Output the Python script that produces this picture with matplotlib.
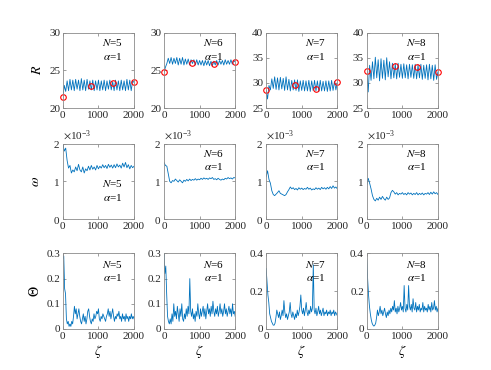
import matplotlib.pyplot as plt
import matplotlib.ticker as mticker
import numpy as np

plt.rcParams['font.family'] = ['Liberation Serif', 'DejaVu Serif']
plt.rcParams['mathtext.fontset'] = 'stix'
plt.rcParams['font.size'] = 8

N_list = [5, 6, 7, 8]
x40 = np.arange(0, 2001, 40)
x25 = np.arange(0, 2001, 25)

# R(zeta)
R5 = [21.4, 23.0, 22.2, 23.6, 22.3, 23.8, 22.4, 23.7, 22.3, 23.8,
      22.5, 23.7, 22.3, 23.9, 22.4, 23.7, 22.3, 23.8, 22.5, 23.6,
      22.4, 23.7, 22.3, 23.6, 22.4, 23.7, 22.3, 23.6, 22.4, 23.7,
      22.3, 23.6, 22.5, 23.7, 22.4, 23.5, 22.3, 23.7, 22.4, 23.6,
      22.3, 23.7, 22.4, 23.6, 22.3, 23.8, 22.4, 23.7, 22.3, 23.6,
      23.4]
R6 = [24.8, 25.4, 25.9, 26.6, 25.9, 26.7, 25.8, 26.6, 25.9, 26.7,
      25.7, 26.6, 25.8, 26.7, 25.7, 26.5, 25.8, 26.5, 25.7, 26.4,
      25.9, 26.4, 25.7, 26.4, 25.7, 26.3, 25.7, 26.3, 25.6, 26.3,
      25.7, 26.3, 25.6, 26.2, 25.6, 26.2, 25.7, 26.3, 25.7, 26.3,
      25.8, 26.3, 25.7, 26.4, 25.8, 26.3, 25.8, 26.4, 25.8, 26.3,
      26.1]
R7 = [28.5, 26.8, 29.5, 28.6, 30.8, 28.9, 31.2, 28.7, 31.0, 28.6,
      31.1, 28.8, 30.9, 28.5, 31.2, 28.6, 30.7, 28.4, 30.5, 28.6,
      30.6, 28.5, 30.6, 28.3, 30.4, 28.5, 30.5, 28.4, 30.4, 28.4,
      30.5, 28.3, 30.4, 28.5, 30.5, 28.4, 30.4, 28.3, 30.5, 28.4,
      30.3, 28.4, 30.4, 28.3, 30.4, 28.4, 30.5, 28.5, 30.3, 28.6,
      30.1]
R8 = [32.3, 28.2, 33.5, 30.5, 34.2, 30.8, 35.1, 31.0, 34.6, 30.4,
      34.8, 30.9, 34.5, 30.6, 35.0, 31.2, 34.2, 30.8, 33.9, 31.0,
      33.8, 30.8, 33.9, 31.1, 33.7, 30.9, 33.8, 31.0, 33.6, 30.8,
      33.7, 31.1, 33.6, 30.9, 33.7, 30.8, 33.6, 31.0, 33.7, 30.7,
      33.5, 30.9, 33.6, 30.6, 33.7, 30.8, 33.5, 30.5, 33.6, 30.7,
      32.2]
R_all = [R5, R6, R7, R8]

# red circle markers
mk_x = [0, 800, 1400, 2000]
mk_R = [[21.4, 22.9, 23.3, 23.5],
        [24.8, 26.0, 25.8, 26.1],
        [28.5, 29.6, 28.7, 30.1],
        [32.3, 33.4, 33.2, 32.2]]

# omega(zeta), in units of 1e-3
w5 = [1.98, 1.80, 1.88, 1.55, 1.35, 1.42, 1.22, 1.30, 1.25, 1.38,
      1.28, 1.45, 1.30, 1.25, 1.38, 1.22, 1.33, 1.28, 1.40, 1.30,
      1.42, 1.32, 1.38, 1.30, 1.42, 1.33, 1.40, 1.35, 1.44, 1.36,
      1.42, 1.34, 1.45, 1.37, 1.43, 1.35, 1.44, 1.36, 1.46, 1.38,
      1.43, 1.35, 1.48, 1.38, 1.50, 1.36, 1.44, 1.33, 1.42, 1.36,
      1.40]
w6 = [1.50, 1.42, 1.40, 1.20, 1.00, 0.96, 1.02, 1.00, 1.06, 1.02,
      0.98, 1.04, 1.00, 0.96, 1.03, 1.00, 1.05, 1.01, 1.06, 1.02,
      1.05, 1.03, 1.07, 1.03, 1.06, 1.04, 1.08, 1.05, 1.09, 1.06,
      1.08, 1.05, 1.09, 1.07, 1.10, 1.05, 1.07, 1.04, 1.08, 1.05,
      1.03, 1.06, 1.04, 1.08, 1.06, 1.10, 1.07, 1.09, 1.06, 1.10,
      1.09]
w7 = [1.12, 1.28, 1.05, 0.95, 0.75, 0.65, 0.62, 0.66, 0.70, 0.75,
      0.68, 0.66, 0.64, 0.62, 0.65, 0.72, 0.78, 0.85, 0.80, 0.83,
      0.78, 0.81, 0.77, 0.83, 0.79, 0.82, 0.78, 0.81, 0.79, 0.84,
      0.79, 0.82, 0.77, 0.80, 0.78, 0.83, 0.79, 0.82, 0.78, 0.84,
      0.80, 0.83, 0.79, 0.84, 0.80, 0.86, 0.81, 0.88, 0.82, 0.85,
      0.80]
w8 = [0.90, 1.08, 0.95, 0.80, 0.62, 0.52, 0.48, 0.55, 0.50, 0.58,
      0.52, 0.60, 0.54, 0.50, 0.58, 0.52, 0.56, 0.70, 0.76, 0.72,
      0.66, 0.70, 0.64, 0.68, 0.66, 0.70, 0.65, 0.68, 0.64, 0.70,
      0.66, 0.69, 0.64, 0.68, 0.65, 0.70, 0.64, 0.68, 0.65, 0.69,
      0.64, 0.68, 0.66, 0.70, 0.65, 0.71, 0.66, 0.72, 0.67, 0.70,
      0.65]
w_all = [w5, w6, w7, w8]

# Theta(zeta)
th5 = [0.28, 0.29, 0.16, 0.14, 0.04, 0.02, 0.03, 0.01, 0.02, 0.01,
       0.03, 0.02, 0.05, 0.09, 0.06, 0.08, 0.04, 0.06, 0.08, 0.05,
       0.03, 0.02, 0.04, 0.06, 0.03, 0.05, 0.02, 0.04, 0.07, 0.08,
       0.05, 0.03, 0.02, 0.04, 0.03, 0.06, 0.04, 0.05, 0.07, 0.06,
       0.08, 0.04, 0.03, 0.05, 0.04, 0.06, 0.05, 0.04, 0.03, 0.05,
       0.06, 0.08, 0.05, 0.07, 0.04, 0.06, 0.08, 0.05, 0.03, 0.05,
       0.04, 0.06, 0.05, 0.07, 0.04, 0.05, 0.03, 0.06, 0.04, 0.05,
       0.03, 0.06, 0.04, 0.05, 0.03, 0.05, 0.04, 0.06, 0.04, 0.05,
       0.04]
th6 = [0.30, 0.22, 0.25, 0.14, 0.05, 0.03, 0.02, 0.04, 0.02, 0.06,
       0.03, 0.10, 0.05, 0.07, 0.04, 0.09, 0.06, 0.03, 0.08, 0.05,
       0.10, 0.04, 0.03, 0.06, 0.04, 0.08, 0.05, 0.09, 0.06, 0.20,
       0.07, 0.05, 0.08, 0.04, 0.06, 0.03, 0.07, 0.05, 0.10, 0.06,
       0.04, 0.08, 0.05, 0.07, 0.09, 0.05, 0.08, 0.04, 0.07, 0.10,
       0.06, 0.08, 0.05, 0.09, 0.06, 0.11, 0.07, 0.05, 0.08, 0.06,
       0.09, 0.05, 0.07, 0.10, 0.06, 0.08, 0.05, 0.07, 0.10, 0.06,
       0.08, 0.05, 0.07, 0.09, 0.06, 0.08, 0.05, 0.10, 0.06, 0.07,
       0.05]
th7 = [0.32, 0.25, 0.18, 0.14, 0.08, 0.06, 0.04, 0.03, 0.02, 0.02,
       0.03, 0.06, 0.10, 0.08, 0.06, 0.09, 0.05, 0.07, 0.10, 0.07,
       0.15, 0.09, 0.06, 0.08, 0.05, 0.07, 0.09, 0.14, 0.08, 0.06,
       0.09, 0.07, 0.05, 0.08, 0.06, 0.10, 0.07, 0.09, 0.12, 0.18,
       0.10, 0.08, 0.11, 0.07, 0.10, 0.14, 0.09, 0.07, 0.10, 0.08,
       0.12, 0.09, 0.11, 0.34, 0.10, 0.08, 0.11, 0.07, 0.09, 0.12,
       0.08, 0.10, 0.07, 0.09, 0.11, 0.07, 0.09, 0.08, 0.10, 0.07,
       0.09, 0.08, 0.10, 0.07, 0.09, 0.08, 0.10, 0.07, 0.09, 0.08,
       0.07]
th8 = [0.37, 0.26, 0.18, 0.12, 0.08, 0.05, 0.03, 0.02, 0.015, 0.02,
       0.03, 0.06, 0.10, 0.07, 0.09, 0.12, 0.08, 0.10, 0.07, 0.09,
       0.11, 0.08, 0.06, 0.09, 0.07, 0.10, 0.08, 0.11, 0.09, 0.12,
       0.10, 0.15, 0.09, 0.11, 0.08, 0.12, 0.09, 0.11, 0.14, 0.10,
       0.12, 0.09, 0.23, 0.11, 0.09, 0.13, 0.10, 0.23, 0.12, 0.10,
       0.13, 0.09, 0.16, 0.11, 0.10, 0.14, 0.09, 0.12, 0.10, 0.13,
       0.09, 0.11, 0.10, 0.14, 0.09, 0.12, 0.10, 0.11, 0.09, 0.13,
       0.10, 0.12, 0.09, 0.14, 0.10, 0.11, 0.15, 0.10, 0.12, 0.09,
       0.11]
th_all = [th5, th6, th7, th8]

blue = '#0072BD'
fig = plt.figure(figsize=(4.91, 3.70), dpi=100)

lefts = [0.128, 0.334, 0.542, 0.747]
bottoms = [0.708, 0.408, 0.111]
w, h = 0.145, 0.204


def style(ax, ylim, yticks):
    ax.set_xlim(0, 2000)
    ax.set_xticks([0, 1000, 2000])
    ax.set_ylim(*ylim)
    ax.set_yticks(yticks)
    ax.tick_params(direction='in', top=True, right=True, length=2.5,
                   width=0.5, color='#777777', labelcolor='#262626', pad=2)
    for s in ax.spines.values():
        s.set_color('#8a8a8a')
        s.set_linewidth(0.6)


for j, N in enumerate(N_list):
    # row 1 : R
    ax = fig.add_axes([lefts[j], bottoms[0], w, h])
    ax.plot(x40, R_all[j], color=blue, lw=0.6)
    ax.plot(mk_x, mk_R[j], 'o', mfc='none', mec='red', ms=4, mew=0.8, clip_on=False)
    if j < 2:
        style(ax, (20, 30), [20, 25, 30])
    else:
        style(ax, (25, 40), [25, 30, 35, 40])
    ax.text(0.70, 0.87, f'$N$={N}', transform=ax.transAxes, ha='center', va='center')
    ax.text(0.70, 0.68, r'$\alpha$=1', transform=ax.transAxes, ha='center', va='center')
    if j == 0:
        ax.set_ylabel('$R$', fontsize=10, labelpad=4)

    # row 2 : omega
    ax = fig.add_axes([lefts[j], bottoms[1], w, h])
    ax.plot(x40, np.array(w_all[j]) * 1e-3, color=blue, lw=0.6)
    style(ax, (0, 2e-3), [0, 1e-3, 2e-3])
    ax.ticklabel_format(axis='y', style='sci', scilimits=(0, 0), useMathText=True)
    ax.yaxis.get_offset_text().set_color('#262626')
    if j == 0:
        ax.text(0.70, 0.47, f'$N$={N}', transform=ax.transAxes, ha='center', va='center')
        ax.text(0.70, 0.29, r'$\alpha$=1', transform=ax.transAxes, ha='center', va='center')
        ax.set_ylabel(r'$\omega$', fontsize=10, labelpad=8)
    else:
        ax.text(0.70, 0.87, f'$N$={N}', transform=ax.transAxes, ha='center', va='center')
        ax.text(0.70, 0.70, r'$\alpha$=1', transform=ax.transAxes, ha='center', va='center')

    # row 3 : Theta
    ax = fig.add_axes([lefts[j], bottoms[2], w, h])
    ax.plot(x25, th_all[j], color=blue, lw=0.6)
    if j < 2:
        style(ax, (0, 0.3), [0, 0.1, 0.2, 0.3])
    else:
        style(ax, (0, 0.4), [0, 0.2, 0.4])
    ax.yaxis.set_major_formatter(mticker.FormatStrFormatter('%g'))
    ax.text(0.70, 0.85, f'$N$={N}', transform=ax.transAxes, ha='center', va='center')
    ax.text(0.70, 0.68, r'$\alpha$=1', transform=ax.transAxes, ha='center', va='center')
    ax.set_xlabel(r'$\zeta$', fontsize=10, labelpad=2)
    if j == 0:
        ax.set_ylabel(r'$\Theta$', fontsize=10, labelpad=3)

fig.savefig('out.png', dpi=100)
